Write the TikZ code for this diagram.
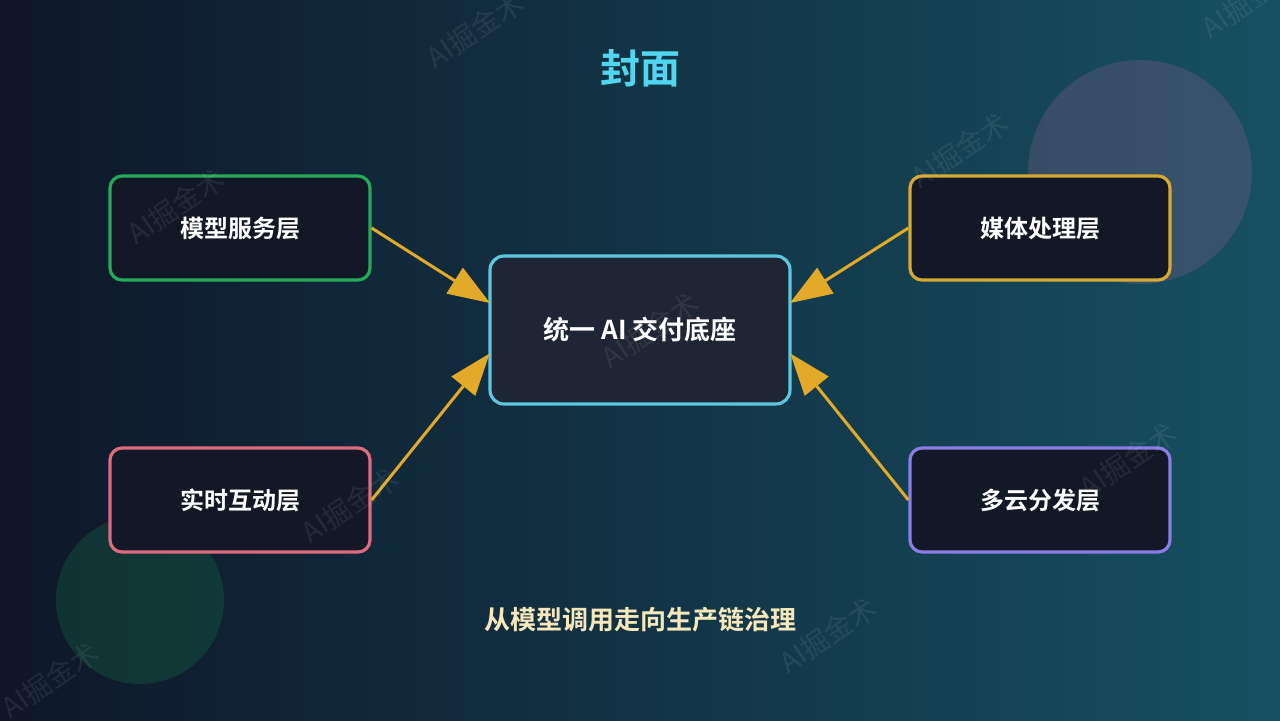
\documentclass[tikz,border=0pt]{standalone}
\usepackage{fontspec}
\setmainfont{Noto Sans CJK SC}[BoldFont={Noto Sans CJK SC Bold}]
\usepackage{tikz}
\usetikzlibrary{arrows.meta}

\definecolor{bgleft}{RGB}{14,23,41}
\definecolor{bgright}{RGB}{22,80,98}
\definecolor{boxfill}{RGB}{18,24,38}
\definecolor{corefill}{RGB}{30,37,53}
\definecolor{coreline}{RGB}{92,200,222}
\definecolor{greenline}{RGB}{38,170,90}
\definecolor{goldline}{RGB}{214,170,48}
\definecolor{pinkline}{RGB}{222,106,126}
\definecolor{purpline}{RGB}{138,126,230}
\definecolor{arrowgold}{RGB}{226,170,40}
\definecolor{titlecyan}{RGB}{82,214,240}
\definecolor{subcream}{RGB}{246,232,186}
\definecolor{blobpink}{RGB}{244,114,182}
\definecolor{blobgreen}{RGB}{34,197,94}

\tikzset{
  layer/.style={draw, line width=1.6pt, rounded corners=6pt, fill=boxfill,
    minimum width=130pt, minimum height=52pt, text=white,
    font=\bfseries\fontsize{12}{14}\selectfont},
  core/.style={draw=coreline, line width=1.6pt, rounded corners=7pt, fill=corefill,
    minimum width=150pt, minimum height=74pt, text=white,
    font=\bfseries\fontsize{13}{15}\selectfont},
  feed/.style={draw=arrowgold, line width=1.5pt,
    -{Triangle[length=21pt,width=15pt]}, shorten >=-1pt},
  wmark/.style={text=white, opacity=0.08, rotate=34, font=\fontsize{14}{14}\selectfont}
}

\begin{document}
\begin{tikzpicture}[x=0.5pt,y=-0.5pt]
		% background
		\shade [left color=bgleft, right color=bgright] (0,0) rectangle (1280,720);
		\useasboundingbox (0,0) rectangle (1280,720);
		\fill [blobpink, opacity=0.16] (1140,172) circle (112);
		\fill [blobgreen, opacity=0.15] (140,600) circle (84);
		
		\node [text=titlecyan, font=\bfseries\fontsize{20}{22}\selectfont] (title) at (640,68) {封面};
		
		\node [core] (base) at (640,330) {统一 AI 交付底座};
		\node [layer, draw=greenline] (model) at (240,228) {模型服务层};
		\node [layer, draw=goldline] (media) at (1040,228) {媒体处理层};
		\node [layer, draw=pinkline] (rtc) at (240,500) {实时互动层};
		\node [layer, draw=purpline] (cloud) at (1040,500) {多云分发层};
		
		\draw [feed] (model.east) -- ([yshift=14pt]base.west);
		\draw [feed] (rtc.east) -- ([yshift=-12.5pt]base.west);
		\draw [feed] (media.west) -- ([yshift=14pt]base.east);
		\draw [feed] (cloud.west) -- ([yshift=-12.5pt]base.east);
		
		\node [text=subcream, font=\bfseries\fontsize{13}{15}\selectfont] (motto) at (640,620) {从模型调用走向生产链治理};
		
		% watermarks
		\foreach \wx/\wy in {475/30, 1250/0, 176/206, 960/150, 650/330, 350/505, 1128/460, 50/680, 828/635}
			\node [wmark] at (\wx,\wy) {AI掘金术};
\end{tikzpicture}
\end{document}
